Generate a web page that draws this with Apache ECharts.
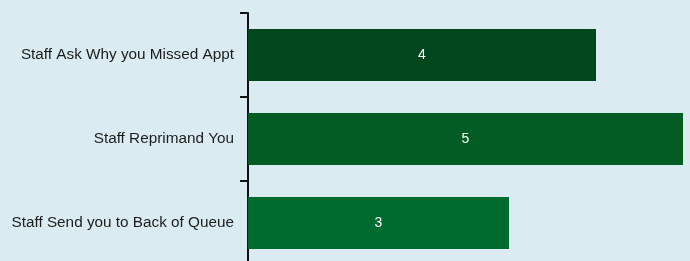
<!doctype html>
<html>
<head>
<meta charset="UTF-8">
<title>Staff reactions</title>
<script src="https://cdn.jsdelivr.net/npm/echarts@6/dist/echarts.min.js"></script>
<style>
  html, body { margin: 0; padding: 0; background: #daecf2; }
  #main { width: 690px; height: 261px; }
</style>
</head>
<body>
<div id="main"></div>
<script>
var categories = ['Staff Ask Why you Missed Appt', 'Staff Reprimand You', 'Staff Send you to Back of Queue'];
var values = [4, 5, 3];
var barColors = ['#00471e', '#035c23', '#006b2e'];

var myChart = echarts.init(document.getElementById('main'));

var option = {
    backgroundColor: '#daecf2',
    animation: false,
    grid: { left: 248, right: 7, top: 13, height: 252, outerBoundsMode: 'none', containLabel: false },
    xAxis: {
        type: 'value',
        min: 0,
        max: 5,
        show: false
    },
    yAxis: {
        type: 'category',
        data: categories,
        inverse: true,
        axisLine: { show: true, lineStyle: { color: '#111', width: 2 } },
        axisTick: { show: true, length: 8, lineStyle: { color: '#111', width: 2 } },
        axisLabel: {
            margin: 14,
            color: '#1c1c1c',
            fontSize: 15.3,
            fontFamily: 'Liberation Sans, Arial, sans-serif'
        }
    },
    series: [{
        type: 'bar',
        barWidth: '62%',
        data: values.map(function (v, i) {
            return { value: v, itemStyle: { color: barColors[i] } };
        }),
        label: {
            show: true,
            position: 'inside',
            color: '#fff',
            fontSize: 14,
            fontFamily: 'Liberation Sans, Arial, sans-serif'
        }
    }]
};
myChart.setOption(option);
</script>
</body>
</html>
